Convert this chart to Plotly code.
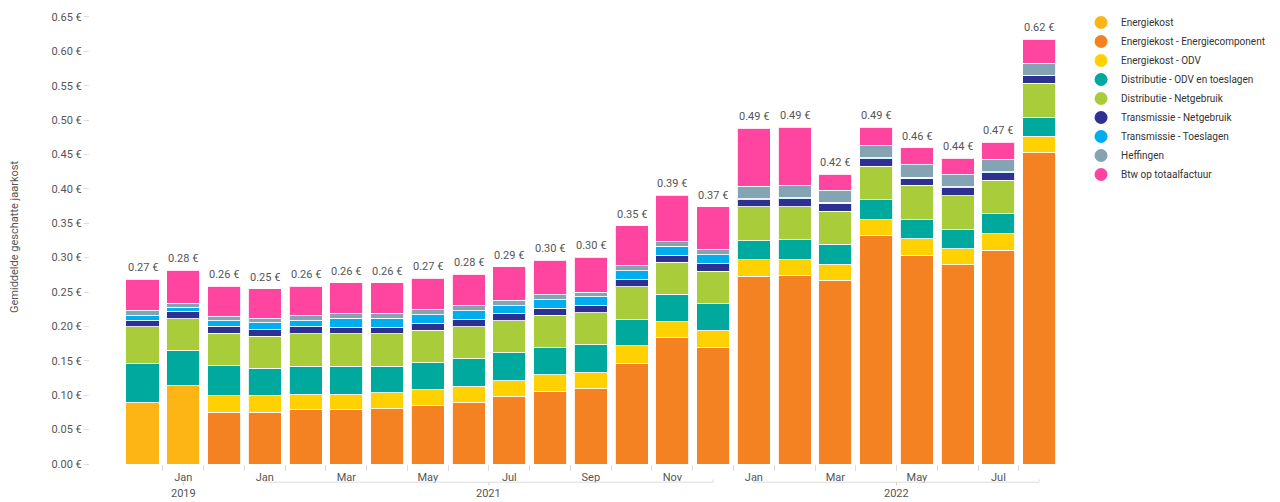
import plotly.graph_objects as go

# ---- data ----
month_labels = ["", "Jan", "", "Jan", "", "Mar", "", "May", "", "Jul", "", "Sep",
                "", "Nov", "", "Jan", "", "Mar", "", "May", "", "Jul", ""]
year_labels = ["2019", "2021", "2022"]
year_first = [1, 3, 15]
year_last = [1, 14, 22]

series_names = [
    "Energiekost",
    "Energiekost - Energiecomponent",
    "Energiekost - ODV",
    "Distributie - ODV en toeslagen",
    "Distributie - Netgebruik",
    "Transmissie - Netgebruik",
    "Transmissie - Toeslagen",
    "Heffingen",
    "Btw op totaalfactuur",
]
series_colors = ["#FDB515", "#F48222", "#FFD100", "#00A99D", "#A8CC3A",
                 "#2E3192", "#00AEEF", "#84A3B3", "#FF45A0"]

energiekost = [0.0897, 0.1138] + [0] * 21
energiecomponent = [0, 0, 0.0753, 0.0753, 0.0789, 0.0789, 0.0800, 0.0847, 0.0894,
                    0.0977, 0.1057, 0.1094, 0.1468, 0.1836, 0.1696, 0.2733, 0.2744,
                    0.2674, 0.3324, 0.3038, 0.2897, 0.3110, 0.4525]
energie_odv = [0, 0, 0.0238, 0.0246, 0.0228, 0.0228, 0.0237, 0.0238, 0.0237, 0.0234,
               0.0240, 0.0238, 0.0251, 0.0238, 0.0247, 0.0233, 0.0233, 0.0233, 0.0233,
               0.0233, 0.0235, 0.0247, 0.0238]
distributie_odv = [0.0567, 0.0506, 0.0440, 0.0394, 0.0404, 0.0404, 0.0385, 0.0385,
                   0.0398, 0.0403, 0.0397, 0.0401, 0.0388, 0.0397, 0.0387, 0.0283,
                   0.0283, 0.0286, 0.0283, 0.0286, 0.0283, 0.0281, 0.0278]
distributie_net = [0.0532, 0.0470, 0.0470, 0.0465, 0.0475, 0.0475, 0.0475, 0.0472,
                   0.0465, 0.0472, 0.0465, 0.0468, 0.0472, 0.0462, 0.0475, 0.0490,
                   0.0483, 0.0484, 0.0487, 0.0494, 0.0484, 0.0485, 0.0497]
transmissie_net = [0.0087, 0.0109, 0.0102, 0.0097, 0.0097, 0.0094, 0.0094, 0.0106,
                   0.0103, 0.0102, 0.0105, 0.0105, 0.0102, 0.0105, 0.0106, 0.0106,
                   0.0116, 0.0113, 0.0110, 0.0103, 0.0116, 0.0113, 0.0105]
transmissie_toe = [0.0078, 0.0058, 0.0083, 0.0097, 0.0092, 0.0126, 0.0131, 0.0121,
                   0.0131, 0.0116, 0.0128, 0.0128, 0.0131, 0.0128, 0.0131, 0.0012,
                   0.0012, 0.0012, 0.0012, 0.0012, 0.0012, 0.0012, 0.0012]
heffingen = [0.0077, 0.0058, 0.0055, 0.0061, 0.0068, 0.0065, 0.0073, 0.0076, 0.0071,
             0.0073, 0.0068, 0.0061, 0.0068, 0.0068, 0.0071, 0.0181, 0.0177, 0.0177,
             0.0180, 0.0184, 0.0177, 0.0180, 0.0174]
btw = [0.0450, 0.0475, 0.0442, 0.0435, 0.0429, 0.0453, 0.0439, 0.0458, 0.0462, 0.0487,
       0.0501, 0.0513, 0.0583, 0.0672, 0.0626, 0.0846, 0.0846, 0.0235, 0.0265, 0.0247,
       0.0243, 0.0247, 0.0349]

series_values = [energiekost, energiecomponent, energie_odv, distributie_odv,
                 distributie_net, transmissie_net, transmissie_toe, heffingen, btw]

n = len(month_labels)
xs = list(range(n))
totals = [sum(s[i] for s in series_values) for i in range(n)]

FONT = "Roboto, 'Open Sans', sans-serif"
TXT = "#555555"

fig = go.Figure()
for name, color, vals in zip(series_names, series_colors, series_values):
    fig.add_trace(go.Bar(
        x=xs, y=vals, name=name, width=0.81,
        marker=dict(color=color, line=dict(color="rgba(255,255,255,0.85)", width=1)),
        showlegend=False, legendgroup=name,
        hovertemplate=name + ": %{y:.3f} €<extra></extra>",
    ))
    # legend entry with round symbol
    fig.add_trace(go.Scatter(
        x=[None], y=[None], mode="markers", name=name, legendgroup=name,
        marker=dict(symbol="circle", size=13, color=color),
        showlegend=True,
    ))

shapes = []
annotations = []

# total labels above the bars
for x, t in zip(xs, totals):
    annotations.append(dict(x=x, y=t, xref="x", yref="y", text=f"{t:.2f} €",
                            showarrow=False, yanchor="bottom", yshift=3,
                            font=dict(family=FONT, size=11, color=TXT)))

# year group annotations and brackets
for lab, a, b in zip(year_labels, year_first, year_last):
    mid = (a + b) / 2
    annotations.append(dict(x=mid, y=-0.064, xref="x", yref="paper", text=lab,
                            showarrow=False, yanchor="middle",
                            font=dict(family=FONT, size=11, color=TXT)))
    shapes.append(dict(type="line", xref="x", yref="paper", x0=mid, x1=mid,
                       y0=-0.040, y1=-0.047, line=dict(color="#cccccc", width=1)))
    if b > a:
        shapes.append(dict(type="line", xref="x", yref="paper", x0=a, x1=b,
                           y0=-0.040, y1=-0.040, line=dict(color="#dddddd", width=1)))
        for xe in (a, b):
            shapes.append(dict(type="line", xref="x", yref="paper", x0=xe, x1=xe,
                               y0=-0.040, y1=-0.034, line=dict(color="#dddddd", width=1)))

fig.update_layout(
    width=1272, height=494,
    margin=dict(l=82, r=218, t=2, b=38, autoexpand=False),
    barmode="stack",
    plot_bgcolor="white", paper_bgcolor="white",
    font=dict(family=FONT, size=11, color=TXT),
    legend=dict(xref="container", yref="container", x=0.8436, y=1.004,
                xanchor="left", yanchor="top",
                font=dict(family=FONT, size=10, color="#333333"),
                itemsizing="trace", traceorder="normal", tracegroupgap=0),
    shapes=shapes,
    annotations=annotations,
    xaxis=dict(
        range=[-1.288, 22.56], automargin=False,
        tickmode="array", tickvals=xs, ticktext=month_labels,
        ticks="outside", ticklen=3, tickcolor="rgba(0,0,0,0)",
        showgrid=False, zeroline=False, showline=False,
        tickfont=dict(family=FONT, size=11, color=TXT),
        minor=dict(tickmode="array", tickvals=[i + 0.5 for i in range(n - 1)],
                   ticks="outside", ticklen=6, tickcolor="#dddddd", showgrid=False),
    ),
    yaxis=dict(
        range=[0, 0.66], automargin=False,
        tickmode="linear", tick0=0, dtick=0.05,
        tickformat=".2f", ticksuffix=" €",
        ticks="outside", ticklen=5, tickcolor="#dddddd",
        showgrid=False, zeroline=False, showline=False,
        tickfont=dict(family=FONT, size=11, color=TXT),
        title=dict(text="Gemiddelde geschatte jaarkost", standoff=53,
                   font=dict(family=FONT, size=11, color=TXT)),
    ),
)

fig.write_html("out.html")
